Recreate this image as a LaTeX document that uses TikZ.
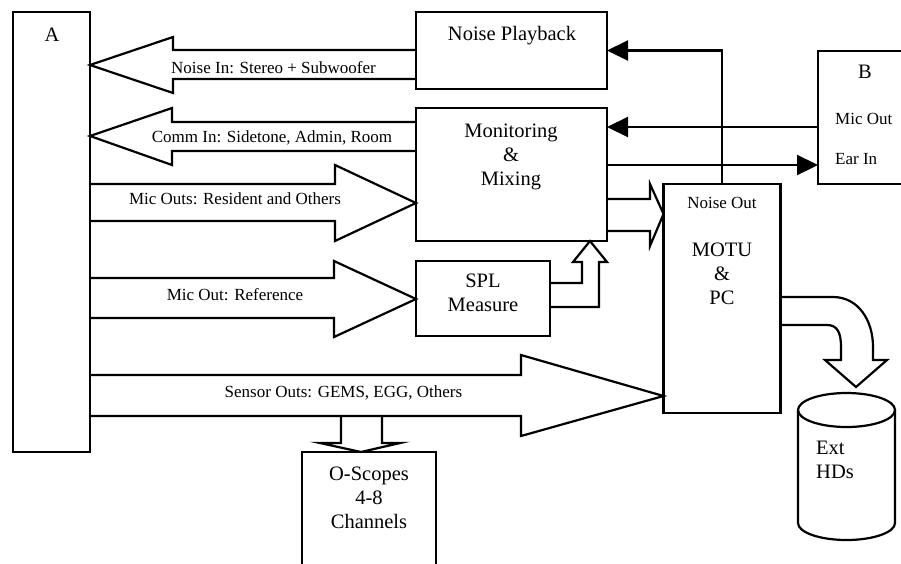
\documentclass[tikz,border=0pt]{standalone}
\usepackage{fontspec}
\setmainfont{Liberation Serif}
\usetikzlibrary{arrows.meta}

\tikzset{
  box/.style={draw, line width=2.2pt, inner sep=0pt, outer sep=0pt},
  bigtext/.style={font=\fontsize{20.5}{24}\selectfont, inner sep=0pt, align=center},
  smalltext/.style={font=\fontsize{17}{20}\selectfont, inner sep=0pt},
  fatarrow/.style={draw, line width=2.2pt, line join=miter},
  thinarrow/.style={draw, line width=2.2pt, -{Triangle[length=21pt,width=20pt]}},
}

\begin{document}
\begin{tikzpicture}[x=1pt, y=-1pt]
    \useasboundingbox (0,0) rectangle (901,563);
    \clip (0,0) rectangle (901,563);

    \node[box, minimum width=77pt, minimum height=440pt] (A) at (51.5,232) {};
    \node[box, minimum width=191pt, minimum height=77pt] (nplay) at (511.5,50.5) {};
    \node[box, minimum width=191pt, minimum height=133pt] (monmix) at (511.5,174.5) {};
    \node[box, minimum width=134pt, minimum height=75pt] (spl) at (483,298.5) {};
    \node[box, minimum width=117pt, minimum height=229pt] (motu) at (722,298.5) {};
    \node[box, minimum width=87pt, minimum height=133pt] (B) at (861.5,117.5) {};
    \node[box, minimum width=134pt, minimum height=138pt] (scope) at (369,521) {};

    % external disks
    \draw[line width=2.2pt] (846.5,410) ellipse [x radius=48.5pt, y radius=17pt];
    \draw[line width=2.2pt] (798,410) -- (798,523) arc[start angle=180, end angle=360, x radius=48.5pt, y radius=17pt] -- (895,410);

    \node[bigtext, anchor=base] (Atxt) at (52,41) {A};
    \node[bigtext, anchor=base] (nplaytxt) at (512,40) {Noise Playback};
    \node[bigtext] (monmixtxt) at (511,156.5) {Monitoring\\\&\\Mixing};
    \node[bigtext] (spltxt) at (483,293) {SPL\\Measure};
    \node[smalltext, anchor=base] (noiseout) at (722,208) {Noise Out};
    \node[bigtext] (mototxt) at (722,274) {MOTU\\\&\\PC};
    \node[bigtext, anchor=base] (Btxt) at (865,78) {B};
    \node[smalltext, anchor=base west] (micout) at (835,124) {Mic Out};
    \node[smalltext, anchor=base west] (earin) at (835,164) {Ear In};
    \node[bigtext] (scopetxt) at (369,498) {O-Scopes\\4-8\\Channels};
    \node[bigtext, align=left, anchor=west] (hdtxt) at (816,459.5) {Ext\\HDs};

    \node[smalltext, anchor=base] (noisein) at (273.5,73) {Noise In: Stereo + Subwoofer};
    \node[smalltext, anchor=base] (commin) at (272,142) {Comm In: Sidetone, Admin, Room};
    \node[smalltext, anchor=base] (micouts) at (235,204) {Mic Outs: Resident and Others};
    \node[smalltext, anchor=base] (micref) at (235,300) {Mic Out: Reference};
    \node[smalltext, anchor=base] (sensor) at (343.5,397) {Sensor Outs: GEMS, EGG, Others};

    % wide arrows
    \draw[fatarrow] (nplay.west |- 0,50) -- (173,50) -- (173,37) -- (A.east |- 0,65)
        -- (173,93) -- (173,79) -- (nplay.west |- 0,79);
    \draw[fatarrow] (monmix.west |- 0,122) -- (172,122) -- (172,108) -- (A.east |- 0,136)
        -- (172,165) -- (172,151) -- (monmix.west |- 0,151);
    \draw[fatarrow] (A.east |- 0,184) -- (335,184) -- (335,165) -- (monmix.west |- 0,203)
        -- (335,241) -- (335,221) -- (A.east |- 0,221);
    \draw[fatarrow] (A.east |- 0,278) -- (334,278) -- (334,261) -- (spl.west |- 0,299)
        -- (334,337) -- (334,318) -- (A.east |- 0,318);
    \draw[fatarrow] (A.east |- 0,375) -- (521,375) -- (521,355) -- (motu.west |- 0,396)
        -- (521,436) -- (521,416) -- (A.east |- 0,416);
    \draw[fatarrow] (341,416) -- (341,443) -- (320,443) -- (scope.north -| 361,0)
        -- (400,443) -- (382,443) -- (382,416);
    \draw[fatarrow] (monmix.east |- 0,199) -- (650,199) -- (650,184) -- (motu.west |- 0,214)
        -- (650,246) -- (650,231) -- (monmix.east |- 0,231);
    \draw[fatarrow] (spl.east |- 0,283) -- (582,283) -- (582,262) -- (573,262) -- (monmix.south -| 590,0)
        -- (607,262) -- (599,262) -- (599,307) -- (spl.east |- 0,307);
    \draw[fatarrow] (motu.east |- 0,297) -- (833,297) .. controls (858,297) and (873,320) .. (873,347)
        -- (873,360) -- (887,360) -- (856,387) -- (825,360) -- (841,360) -- (841,347)
        .. controls (841,332) and (837,325) .. (827,325) -- (motu.east |- 0,325);

    % signal lines
    \draw[thinarrow] (motu.north) |- (nplay.east);
    \draw[thinarrow] (B.west |- 0,127) -- (monmix.east |- 0,127);
    \draw[thinarrow] (monmix.east |- 0,165) -- (B.west |- 0,165);
\end{tikzpicture}
\end{document}
